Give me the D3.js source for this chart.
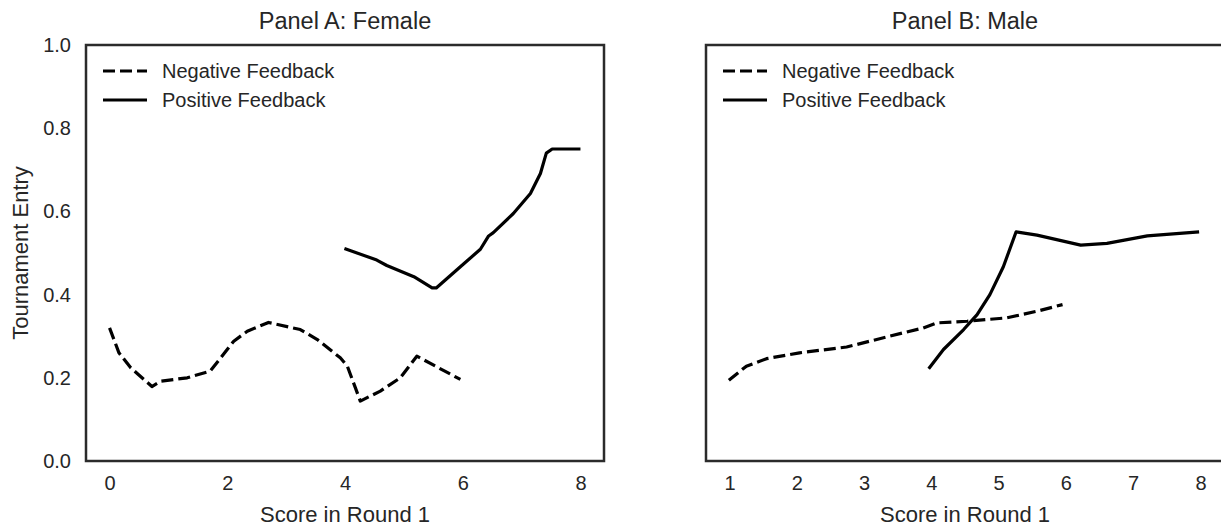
<!DOCTYPE html>
<html><head><meta charset="utf-8">
<script src="https://cdn.jsdelivr.net/npm/d3@7"></script>
<style>
body{margin:0;background:#fff}
svg{display:block}
text{font-family:"Liberation Sans",Arial,Helvetica,sans-serif;fill:#262626}
</style>
</head><body>
<svg id="chart" width="1221" height="527"></svg>
<script>
// ---- data ----
const panelTitles = ["Panel A: Female", "Panel B: Male"];
const seriesNames = ["Negative Feedback", "Positive Feedback"];
const yTicks = [0.0, 0.2, 0.4, 0.6, 0.8, 1.0];
const xTicksFemale = [0, 2, 4, 6, 8];
const xTicksMale = [1, 2, 3, 4, 5, 6, 7, 8];
const xLabel = "Score in Round 1";
const yLabel = "Tournament Entry";

const femaleNegX = [0.00, 0.16, 0.36, 0.72, 0.87, 1.32, 1.71, 2.11, 2.34, 2.70, 3.24, 3.53, 3.92, 4.04, 4.26, 4.60, 4.94, 5.22, 5.96];
const femaleNegY = [0.320, 0.260, 0.224, 0.179, 0.192, 0.200, 0.216, 0.288, 0.312, 0.333, 0.316, 0.292, 0.248, 0.228, 0.144, 0.168, 0.200, 0.252, 0.196];
const femalePosX = [3.99, 4.54, 4.71, 5.17, 5.48, 5.55, 5.96, 6.30, 6.44, 6.52, 6.86, 7.15, 7.32, 7.42, 7.52, 8.00];
const femalePosY = [0.511, 0.483, 0.470, 0.443, 0.416, 0.416, 0.467, 0.509, 0.541, 0.549, 0.595, 0.643, 0.691, 0.740, 0.750, 0.750];

const maleNegX = [0.99, 1.25, 1.55, 2.04, 2.74, 2.89, 3.38, 3.88, 4.08, 4.53, 5.12, 5.57, 5.95];
const maleNegY = [0.194, 0.228, 0.246, 0.260, 0.274, 0.280, 0.300, 0.320, 0.332, 0.336, 0.344, 0.360, 0.376];
const malePosX = [3.96, 4.18, 4.48, 4.68, 4.87, 5.07, 5.26, 5.57, 6.22, 6.61, 7.21, 7.98];
const malePosY = [0.222, 0.268, 0.316, 0.352, 0.400, 0.467, 0.551, 0.543, 0.519, 0.523, 0.541, 0.551];

// ---- layout ----
const svg = d3.select("#chart");
const plotTop = 45, plotBottom = 461, pw = 518;
const panels = [
  {left: 86, domain: [-0.4, 8.4], ticks: xTicksFemale, title: panelTitles[0], showY: true, frameW: pw,
   series: [{x: femaleNegX, y: femaleNegY, dash: true}, {x: femalePosX, y: femalePosY, dash: false}]},
  {left: 706, domain: [0.65, 8.35], ticks: xTicksMale, title: panelTitles[1], showY: false, frameW: pw + 6,
   series: [{x: maleNegX, y: maleNegY, dash: true}, {x: malePosX, y: malePosY, dash: false}]}
];
const yScale = d3.scaleLinear().domain([0, 1]).range([plotBottom, plotTop]);
const frameColor = "#2b2b2b";
const lineW = 3.2;
const dashArr = "12,5";

panels.forEach(p => {
  const xScale = d3.scaleLinear().domain(p.domain).range([p.left, p.left + pw]);
  const g = svg.append("g");

  const line = d3.line().x(d => xScale(d[0])).y(d => yScale(d[1]));
  p.series.forEach(s => {
    const pts = s.x.map((v, i) => [v, s.y[i]]);
    g.append("path").attr("d", line(pts))
      .attr("fill", "none").attr("stroke", "#000").attr("stroke-width", lineW)
      .attr("stroke-linejoin", "round")
      .attr("stroke-dasharray", s.dash ? dashArr : null);
  });

  g.append("rect").attr("x", p.left).attr("y", plotTop).attr("width", p.frameW).attr("height", plotBottom - plotTop)
    .attr("fill", "none").attr("stroke", frameColor).attr("stroke-width", 2.5);

  const xa = g.append("g").attr("transform", `translate(0,${plotBottom})`)
    .call(d3.axisBottom(xScale).tickValues(p.ticks).tickSize(0).tickPadding(15).tickFormat(d3.format("d")));
  xa.select(".domain").remove();
  xa.selectAll("text").attr("font-size", 20).style("font-family", "Liberation Sans, Arial, sans-serif").attr("fill", "#262626");

  if (p.showY) {
    const ya = g.append("g").attr("transform", `translate(${p.left},0)`)
      .call(d3.axisLeft(yScale).tickValues(yTicks).tickSize(0).tickPadding(15).tickFormat(d3.format(".1f")));
    ya.select(".domain").remove();
    ya.selectAll("text").attr("font-size", 20).style("font-family", "Liberation Sans, Arial, sans-serif").attr("fill", "#262626");
    g.append("text").attr("transform", `translate(28,${(plotTop + plotBottom) / 2}) rotate(-90)`)
      .attr("text-anchor", "middle").attr("font-size", 22).text(yLabel);
  }

  g.append("text").attr("x", p.left + pw / 2).attr("y", 522).attr("text-anchor", "middle")
    .attr("font-size", 22).text(xLabel);

  g.append("text").attr("x", p.left + pw / 2).attr("y", 29).attr("text-anchor", "middle")
    .attr("font-size", 23.5).text(p.title);

  seriesNames.forEach((name, i) => {
    const ly = 71 + i * 29;
    g.append("line").attr("x1", p.left + 17).attr("x2", p.left + 61).attr("y1", ly).attr("y2", ly)
      .attr("stroke", "#000").attr("stroke-width", lineW)
      .attr("stroke-dasharray", i === 0 ? dashArr : null);
    g.append("text").attr("x", p.left + 76).attr("y", ly).attr("dy", "0.35em")
      .attr("font-size", 20).text(name);
  });
});
</script>
</body></html>
